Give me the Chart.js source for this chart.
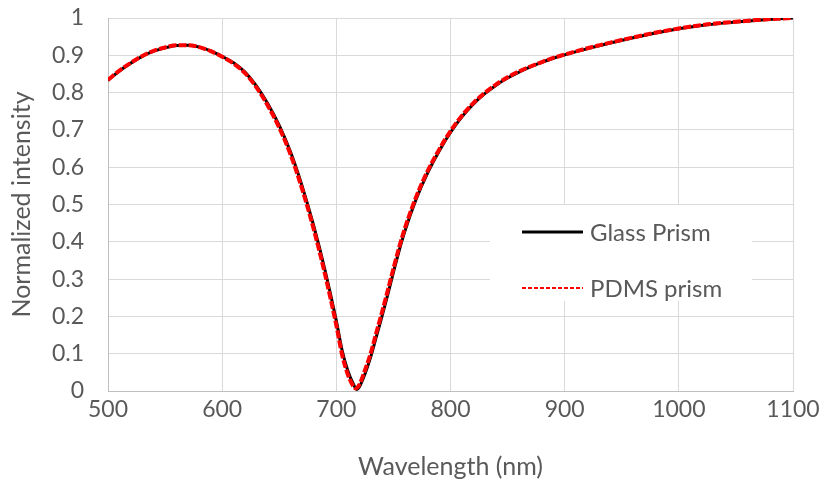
<!DOCTYPE html>
<html>
<head>
<meta charset="utf-8">
<script src="https://cdn.jsdelivr.net/npm/chart.js@4.4.1/dist/chart.umd.min.js"></script>
<style>
  html, body { margin: 0; padding: 0; background: #fff; }
  #wrap { width: 826px; height: 485px; }
</style>
</head>
<body>
<div id="wrap"><canvas id="chart"></canvas></div>
<script>
// wavelength (nm) and normalized intensity
const glassWl = [500, 510, 520, 530, 540, 550, 560, 570, 580, 590, 600, 610, 620, 630, 640, 650, 660, 670, 680, 690, 700, 705, 710, 715, 718, 720, 725, 730, 735, 740, 745, 750, 755, 760, 770, 780, 790, 800, 810, 820, 830, 840, 850, 860, 870, 880, 890, 900, 920, 940, 960, 980, 1000, 1025, 1050, 1075, 1100];
const glassI = [0.833, 0.858, 0.879, 0.897, 0.911, 0.920, 0.926, 0.927, 0.922, 0.912, 0.897, 0.880, 0.855, 0.818, 0.770, 0.712, 0.640, 0.550, 0.445, 0.325, 0.188, 0.110, 0.055, 0.018, 0.004, 0.010, 0.045, 0.090, 0.145, 0.200, 0.258, 0.318, 0.376, 0.428, 0.515, 0.585, 0.643, 0.693, 0.735, 0.769, 0.797, 0.820, 0.839, 0.855, 0.869, 0.881, 0.892, 0.901, 0.918, 0.933, 0.947, 0.960, 0.971, 0.982, 0.989, 0.995, 1.000];

const pdmsWl = [500, 510, 520, 530, 540, 550, 560, 570, 580, 590, 600, 610, 620, 630, 640, 650, 660, 670, 680, 690, 700, 705, 710, 715, 717, 720, 725, 730, 735, 740, 745, 750, 755, 760, 770, 780, 790, 800, 810, 820, 830, 840, 850, 860, 870, 880, 890, 900, 920, 940, 960, 980, 1000, 1025, 1050, 1075, 1100];
const pdmsI = [0.834, 0.859, 0.880, 0.898, 0.912, 0.921, 0.927, 0.927, 0.922, 0.911, 0.896, 0.878, 0.852, 0.814, 0.765, 0.706, 0.633, 0.542, 0.436, 0.314, 0.176, 0.098, 0.045, 0.012, 0.007, 0.016, 0.055, 0.100, 0.156, 0.211, 0.269, 0.328, 0.385, 0.436, 0.521, 0.590, 0.647, 0.697, 0.738, 0.772, 0.799, 0.822, 0.841, 0.857, 0.870, 0.882, 0.893, 0.902, 0.919, 0.934, 0.948, 0.961, 0.972, 0.983, 0.990, 0.996, 1.000];

const seriesNames = ["Glass Prism", "PDMS prism"];
const xTicks = [500, 600, 700, 800, 900, 1000, 1100];

const FONT = "Lato, 'Open Sans', sans-serif";
const GREY = "#595959";

function toPoints(xs, ys) {
    return xs.map((x, i) => ({ x: x, y: ys[i] }));
}

// legend box drawn inside the plot area, like the Excel original
const insideLegend = {
    id: "insideLegend",
    afterDraw(chart) {
        const ctx = chart.ctx;
        const a = chart.chartArea;
        const left = a.left + 382;
        const top = a.top + 187;
        ctx.save();
        ctx.fillStyle = "#fff";
        ctx.fillRect(left, top, 262, 96);
        const rows = [
            { y: top + 27, color: "#000", dash: [], width: 3 },
            { y: top + 83, color: "#ff0000", dash: [4, 2], width: 2 },
        ];
        rows.forEach((r, i) => {
            ctx.beginPath();
            ctx.setLineDash(r.dash);
            ctx.lineWidth = r.width;
            ctx.strokeStyle = r.color;
            ctx.moveTo(left + 32, r.y);
            ctx.lineTo(left + 93, r.y);
            ctx.stroke();
            ctx.setLineDash([]);
            ctx.fillStyle = GREY;
            ctx.font = "24px " + FONT;
            ctx.textBaseline = "middle";
            ctx.textAlign = "left";
            ctx.fillText(seriesNames[i], left + 100, r.y + 1);
        });
        ctx.restore();
    },
};

new Chart(document.getElementById("chart").getContext("2d"), {
    type: "scatter",
    data: {
        datasets: [
            {
                label: seriesNames[0],
                data: toPoints(glassWl, glassI),
                showLine: true,
                borderColor: "#000",
                borderWidth: 3,
                pointRadius: 0,
                cubicInterpolationMode: "monotone",
                order: 1,
            },
            {
                label: seriesNames[1],
                data: toPoints(pdmsWl, pdmsI),
                showLine: true,
                borderColor: "#ff0000",
                borderWidth: 4,
                borderDash: [8, 2],
                pointRadius: 0,
                cubicInterpolationMode: "monotone",
                order: 0,
            },
        ],
    },
    options: {
        responsive: true,
        maintainAspectRatio: false,
        animation: false,
        layout: { padding: { left: 0, right: 33, top: 0, bottom: 0 } },
        plugins: {
            legend: { display: false },
            tooltip: { enabled: false },
        },
        scales: {
            x: {
                type: "linear",
                min: 500,
                max: 1100,
                afterBuildTicks: (axis) => {
                    axis.ticks = xTicks.map((v) => ({ value: v }));
                },
                afterFit: (axis) => { axis.height = 94; },
                grid: { color: "#d9d9d9", lineWidth: 1, drawTicks: false },
                border: { color: "#bfbfbf", width: 1 },
                ticks: {
                    color: GREY,
                    font: { family: FONT, size: 23 },
                    padding: 5,
                    maxRotation: 0,
                    callback: (v) => String(v),
                },
                title: {
                    display: true,
                    text: "Wavelength (nm)",
                    color: GREY,
                    font: { family: FONT, size: 25 },
                    padding: { top: 0, bottom: 3 },
                },
            },
            y: {
                min: 0,
                max: 1,
                afterFit: (axis) => {
                    axis.width = 108;
                    axis.paddingTop = 18;
                    axis.paddingBottom = 14;
                },
                grid: { color: "#d9d9d9", lineWidth: 1, drawTicks: false },
                border: { color: "#bfbfbf", width: 1 },
                ticks: {
                    stepSize: 0.1,
                    color: GREY,
                    font: { family: FONT, size: 23 },
                    padding: 24,
                    callback: (v) => String(Math.round(v * 10) / 10),
                },
                title: {
                    display: true,
                    text: "Normalized intensity",
                    color: GREY,
                    font: { family: FONT, size: 25 },
                    padding: { top: 7, bottom: 0 },
                },
            },
        },
    },
    plugins: [insideLegend],
});
</script>
</body>
</html>
